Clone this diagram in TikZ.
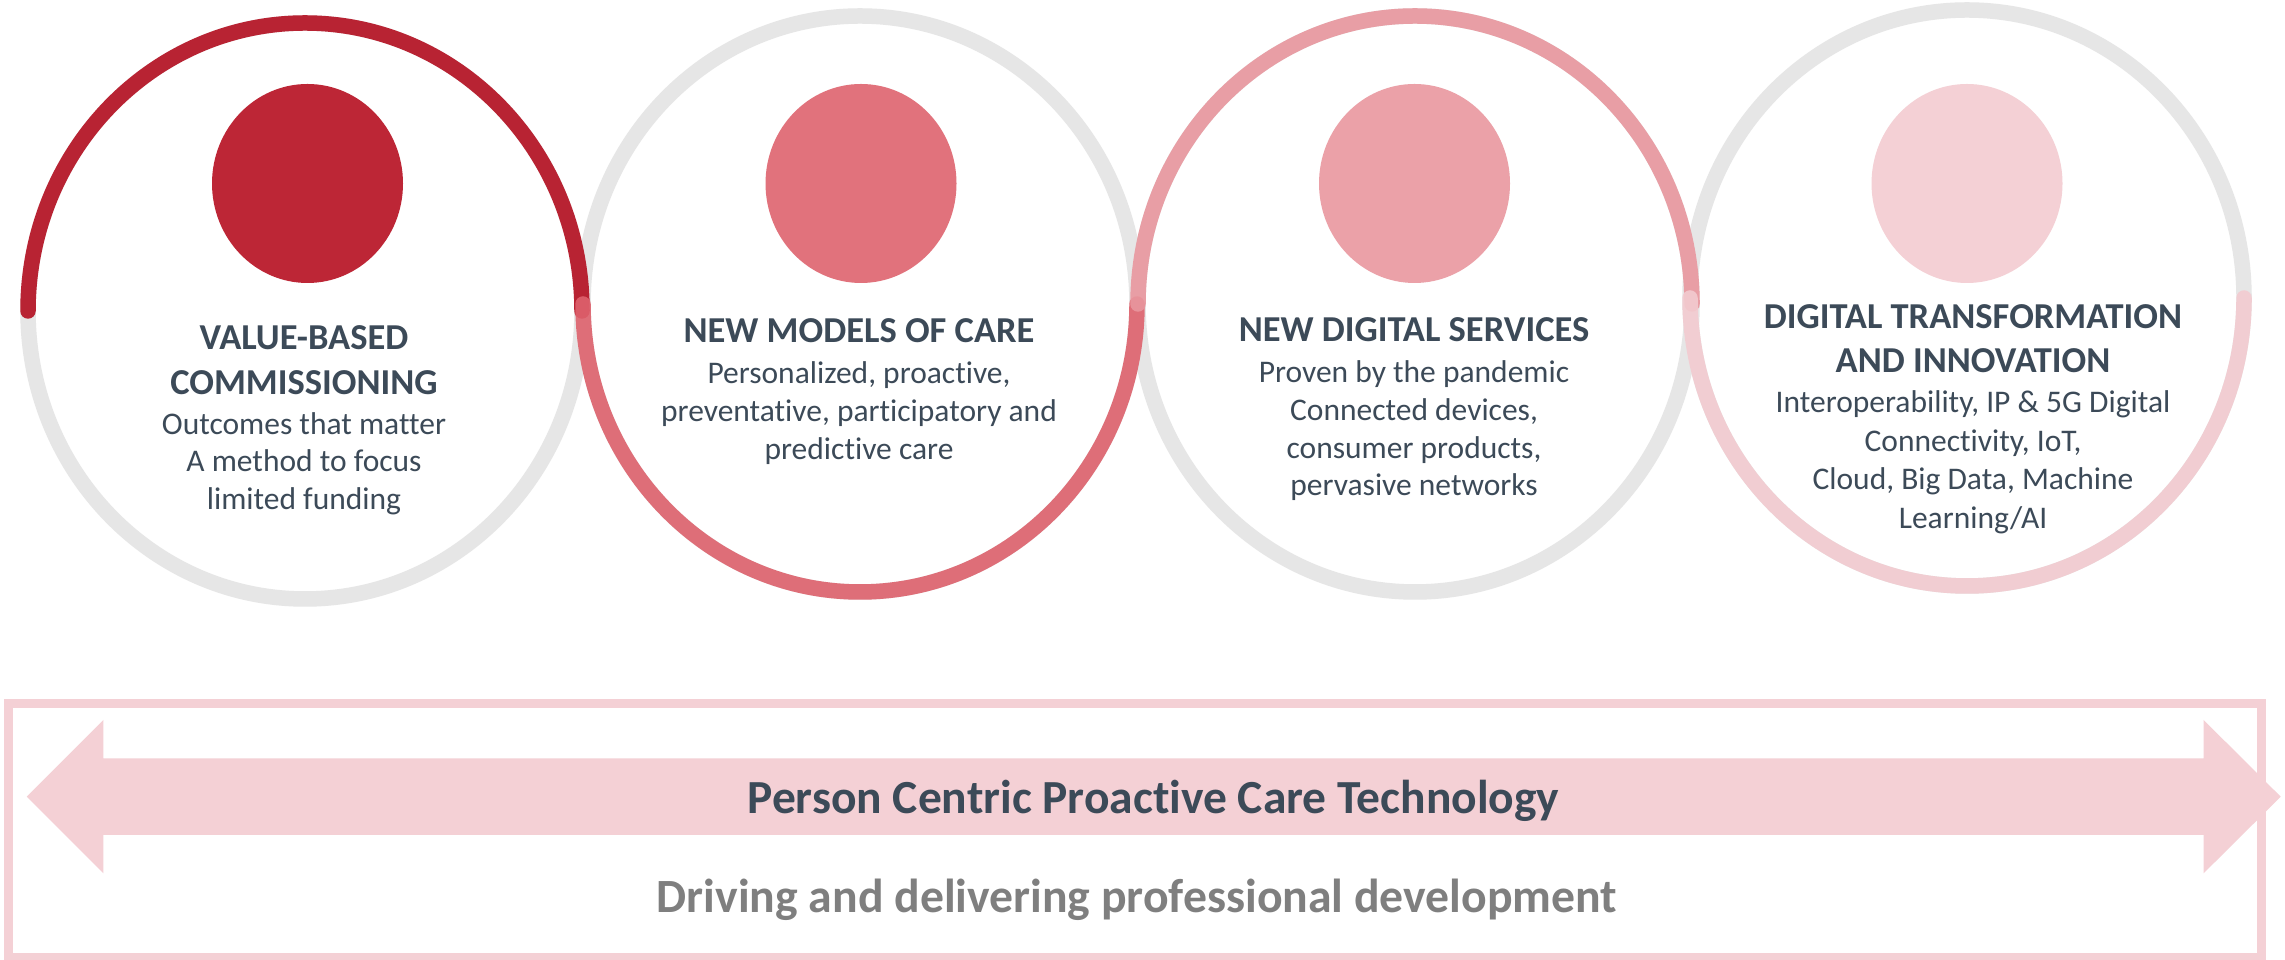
\documentclass[tikz,border=0pt]{standalone}
\usepackage{fontspec}
\setmainfont{Carlito}[Ligatures=NoCommon]
\definecolor{cA}{HTML}{BD2636}
\definecolor{cB}{HTML}{E1727C}
\definecolor{cC}{HTML}{EBA1A8}
\definecolor{cD}{HTML}{F4D0D5}
\definecolor{aA}{HTML}{B40E20}
\definecolor{aB}{HTML}{DE626D}
\definecolor{aC}{HTML}{E9979E}
\definecolor{aD}{HTML}{F3CBD0}
\definecolor{ringgray}{HTML}{E6E6E6}
\definecolor{txt}{HTML}{3C4A58}
\definecolor{subgray}{HTML}{7F7F7F}
\begin{document}
\begin{tikzpicture}[x=1pt,y=1pt,
  ring/.style={draw=ringgray, line width=15.5pt},
  arcst/.style={line width=15.5pt, line cap=round, opacity=0.9},
  ttl/.style={anchor=base, inner sep=0pt, text=txt, font=\fontsize{36.5}{44}\selectfont\bfseries},
  bdy/.style={anchor=base, inner sep=0pt, text=txt, font=\fontsize{31.5}{38}\selectfont},
  bigt/.style={anchor=base, inner sep=0pt, font=\fontsize{47.5}{50}\selectfont\bfseries}]
\useasboundingbox (0,0) rectangle (2285,960);
\fill[white] (0,0) rectangle (2285,960);
% circle centres
\coordinate (o1) at (305,649);
\coordinate (o2) at (860,656);
\coordinate (o3) at (1415,656);
\coordinate (o4) at (1967,662);
% grey rings
\foreach \c in {o1,o2,o3,o4}
  \draw[ring] (\c) ellipse [x radius=277pt, y radius=288pt];
% coloured half arcs
\draw[arcst, draw=aA] (o1) ++(180:277pt and 288pt) arc[start angle=180, end angle=0, x radius=277pt, y radius=288pt];
\draw[arcst, draw=aB] (o2) ++(180:277pt and 288pt) arc[start angle=180, end angle=360, x radius=277pt, y radius=288pt];
\draw[arcst, draw=aC] (o3) ++(180:277pt and 288pt) arc[start angle=180, end angle=0, x radius=277pt, y radius=288pt];
\draw[arcst, draw=aD] (o4) ++(180:277pt and 288pt) arc[start angle=180, end angle=360, x radius=277pt, y radius=288pt];
% inner dots
\fill[cA] (307.5,776.5) ellipse [x radius=95.5pt, y radius=99.5pt];
\fill[cB] (861,776.5) ellipse [x radius=95.5pt, y radius=99.5pt];
\fill[cC] (1414.5,776.5) ellipse [x radius=95.5pt, y radius=99.5pt];
\fill[cD] (1967,776.5) ellipse [x radius=95.5pt, y radius=99.5pt];
% texts circle 1
\node[ttl] (t1a) at (304,610) {VALUE-BASED};
\node[ttl] (t1b) at (304,565.5) {COMMISSIONING};
\node[bdy] (t1c) at (304,525) {Outcomes that matter};
\node[bdy] (t1d) at (304,488) {A method to focus};
\node[bdy] (t1e) at (304,450) {limited funding};
% texts circle 2
\node[ttl] (t2a) at (859,617) {NEW MODELS OF CARE};
\node[bdy] (t2b) at (859,576.5) {Personalized, proactive,};
\node[bdy] (t2c) at (859,538) {preventative, participatory and};
\node[bdy] (t2d) at (859,500) {predictive care};
% texts circle 3
\node[ttl] (t3a) at (1414,618) {NEW DIGITAL SERVICES};
\node[bdy] (t3b) at (1414,577.3) {Proven by the pandemic};
\node[bdy] (t3c) at (1414,539) {Connected devices,};
\node[bdy] (t3d) at (1414,501) {consumer products,};
\node[bdy] (t3e) at (1414,464) {pervasive networks};
% texts circle 4
\node[ttl] (t4a) at (1973,631) {DIGITAL TRANSFORMATION};
\node[ttl] (t4b) at (1973,587) {AND INNOVATION};
\node[bdy] (t4c) at (1973,547) {Interoperability, IP \& 5G Digital};
\node[bdy] (t4d) at (1973,508) {Connectivity, IoT,};
\node[bdy] (t4e) at (1973,470) {Cloud, Big Data, Machine};
\node[bdy] (t4f) at (1973,431) {Learning/AI};
% bottom frame and double arrow
\draw[draw=cD, line width=9pt] (8.5,2) rectangle (2261,256);
\fill[cD] (26.8,163.3) -- (103.3,240) -- (103.3,201.7) -- (2203.6,201.7) -- (2203.6,240)
  -- (2280.7,163.3) -- (2203.6,86.7) -- (2203.6,125) -- (103.3,125) -- (103.3,86.7) -- cycle;
\node[bigt, text=txt] (band) at (1153.5,146.7) {Person Centric Proactive Care Technology};
\node[bigt, text=subgray, font=\fontsize{47.7}{50}\selectfont\bfseries] (drive) at (1137,47.7) {Driving and delivering professional development};
\end{tikzpicture}
\end{document}
